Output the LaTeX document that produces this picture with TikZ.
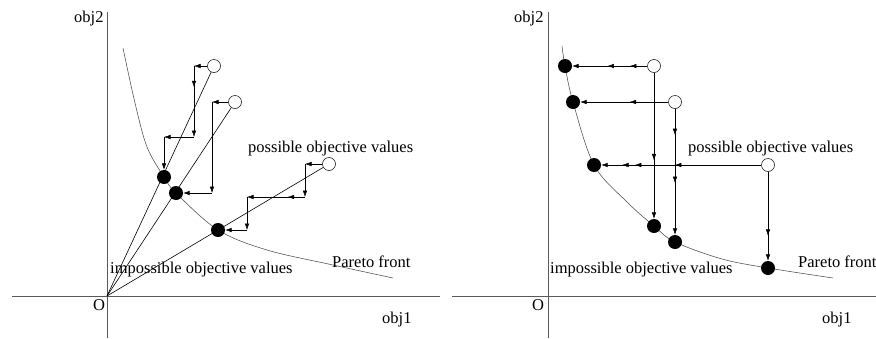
\documentclass[tikz,border=0pt]{standalone}
\usepackage{fontspec}
\setmainfont{Liberation Serif}
\usetikzlibrary{arrows.meta,decorations.markings}

\begin{document}
\begin{tikzpicture}[x=1pt,y=-1pt,
  >={Latex[length=6.5pt,width=4.5pt]},
  axis/.style={line width=0.6pt,black!65},
  front/.style={line width=0.55pt,black!70},
  ray/.style={line width=0.6pt},
  arr/.style={->,line width=0.5pt},
  mid/.style={postaction={decorate,decoration={markings,mark=at position #1 with {\arrow{>}}}}},
  opt/.style={circle,draw,line width=0.5pt,fill=white,minimum size=13pt,inner sep=0pt},
  dot/.style={circle,fill=black,minimum size=14pt,inner sep=0pt},
  lab/.style={font=\fontsize{16.5}{18}\selectfont,inner sep=0pt,anchor=base west}]
  \useasboundingbox (0,0) rectangle (876,338);
  % left panel
  \coordinate (O) at (107,296);
  \coordinate (lxa) at (12,296);
  \coordinate (lxb) at (440,296);
  \coordinate (lya) at (107,12);
  \coordinate (lyb) at (107,338);
  \draw[axis] (lxa) -- (lxb);
  \draw[axis] (lya) -- (lyb);
  \draw[front] plot[smooth,tension=0.55] coordinates {(123,48) (135,103) (147,147) (164,177) (176,193) (218,230) (267,250) (333,265) (393,278)};
  \node[lab] (lobj2) at (74,22) {obj2};
  \node[lab] (lobj1) at (382,323) {obj1};
  \node[lab] (lorig) at (93,310) {O};
  \node[lab] (lposs) at (248,152) {possible objective values};
  \node[lab] (limp) at (110,273) {impossible objective values};
  \node[lab] (lpar) at (332,267) {Pareto front};
  \node[opt] (o1) at (214,66) {};
  \node[opt] (o2) at (235,102) {};
  \node[opt] (o3) at (329,164) {};
  \node[dot] (f1) at (164,177) {};
  \node[dot] (f2) at (176,193) {};
  \node[dot] (f3) at (218,230) {};
  \draw[ray] (O) -- (o1);
  \draw[ray] (O) -- (o2);
  \draw[ray] (O) -- (o3);
  \coordinate (c11) at (194,66);
  \coordinate (c12) at (194,137);
  \coordinate (c13) at (164,137);
  \draw[arr] (o1) -- (c11);
  \draw[arr,mid=0.3] (c11) -- (c12);
  \draw[arr] (c12) -- (c13);
  \draw[arr] (c13) -- (f1);
  \coordinate (c21) at (212,102);
  \coordinate (c22) at (212,193);
  \draw[arr] (o2) -- (c21);
  \draw[arr] (c21) -- (c22);
  \draw[arr] (c22) -- (f2);
  \coordinate (c31) at (305,164);
  \coordinate (c32) at (305,197);
  \coordinate (c33) at (247,197);
  \coordinate (c34) at (247,230);
  \draw[arr] (o3) -- (c31);
  \draw[arr] (c31) -- (c32);
  \draw[arr,mid=0.3] (c32) -- (c33);
  \draw[arr] (c33) -- (c34);
  \draw[arr] (c34) -- (f3);
  % right panel
  \coordinate (rxa) at (452,296);
  \coordinate (rxb) at (876,296);
  \coordinate (rya) at (548,12);
  \coordinate (ryb) at (548,338);
  \draw[axis] (rxa) -- (rxb);
  \draw[axis] (rya) -- (ryb);
  \draw[front] plot[smooth,tension=0.55] coordinates {(562,46) (565,66) (573,102) (594,165) (627,202) (654,226) (675,242) (722,259) (768,268) (833,278)};
  \node[lab] (robj2) at (514,22) {obj2};
  \node[lab] (robj1) at (822,323) {obj1};
  \node[lab] (rorig) at (532,310) {O};
  \node[lab] (rposs) at (688,152) {possible objective values};
  \node[lab] (rimp) at (550,273) {impossible objective values};
  \node[lab] (rpar) at (798,267) {Pareto front};
  \node[opt] (p1) at (654,66) {};
  \node[opt] (p2) at (675,102) {};
  \node[opt] (p3) at (768,165) {};
  \node[dot] (g1) at (565,66) {};
  \node[dot] (g2) at (573,102) {};
  \node[dot] (g3) at (594,165) {};
  \node[dot] (g4) at (654,226) {};
  \node[dot] (g5) at (675,242) {};
  \node[dot] (g6) at (768,268) {};
  \draw[arr,mid=0.23,mid=0.53] (p1) -- (g1);
  \draw[arr,mid=0.44] (p2) -- (g2);
  \draw[arr,mid=0.54,mid=0.79,mid=0.87] (p3) -- (g3);
  \draw[arr,mid=0.6] (p1) -- (g4);
  \draw[arr,mid=0.21,mid=0.59] (p2) -- (g5);
  \draw[arr,mid=0.72] (p3) -- (g6);
\end{tikzpicture}
\end{document}
